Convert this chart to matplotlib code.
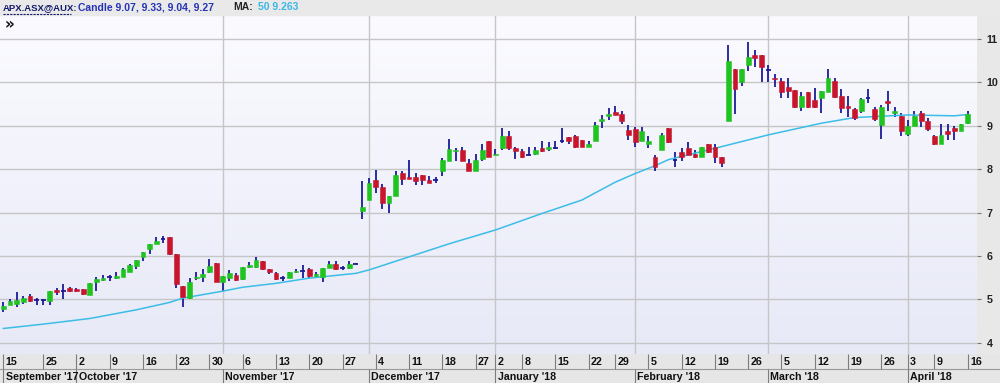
import numpy as np
import pandas as pd
import matplotlib
matplotlib.use('Agg')
import matplotlib.pyplot as plt
from matplotlib.colors import LinearSegmentedColormap
from matplotlib.lines import Line2D
from matplotlib.patches import Rectangle

############ APX.ASX daily candles, 15 Sep 2017 - 16 Apr 2018 ############
opens = [4.78, 4.87, 4.89, 4.94, 5.07, 4.99, 4.99, 4.96, 5.21, 5.19,
         5.26, 5.25, 5.23, 5.10, 5.41, 5.44, 5.51, 5.50, 5.52, 5.62,
         5.78, 5.98, 6.16, 6.28, 6.39, 6.43, 6.05, 5.32, 5.04, 5.49,
         5.52, 5.62, 5.83, 5.39, 5.49, 5.56, 5.46, 5.74, 5.75, 5.88,
         5.70, 5.60, 5.49, 5.49, 5.62, 5.65, 5.70, 5.55, 5.51, 5.73,
         5.82, 5.72, 5.72, 5.82, 7.03, 7.28, 7.76, 7.59, 7.23, 7.39,
         7.92, 7.82, 7.82, 7.86, 7.76, 7.74, 7.97, 8.20, 8.41, 8.45,
         8.14, 7.97, 8.23, 8.64, 8.32, 8.49, 8.77, 8.50, 8.42, 8.33,
         8.35, 8.50, 8.46, 8.49, 8.64, 8.74, 8.77, 8.68, 8.52, 8.64,
         9.10, 9.22, 9.31, 9.28, 8.91, 8.93, 8.64, 8.58, 8.29, 8.44,
         8.94, 8.22, 8.40, 8.48, 8.34, 8.29, 8.58, 8.52, 8.29, 9.11,
         10.32, 10.02, 10.40, 10.63, 10.63, 10.29, 10.11, 10.03, 9.90, 9.82,
         9.43, 9.77, 9.60, 9.65, 9.79, 10.03, 9.69, 9.46, 9.39, 9.35,
         9.63, 9.39, 9.02, 9.57, 9.29, 9.23, 8.81, 9.00, 9.29, 9.11,
         8.77, 8.58, 8.87, 8.94, 8.89, 9.07]
highs = [4.95, 5.02, 5.18, 5.08, 5.12, 5.04, 5.01, 5.19, 5.27, 5.35,
         5.28, 5.27, 5.23, 5.37, 5.52, 5.56, 5.56, 5.62, 5.73, 5.81,
         5.91, 6.09, 6.28, 6.43, 6.45, 6.43, 6.05, 5.32, 5.49, 5.62,
         5.70, 5.92, 5.83, 5.55, 5.68, 5.60, 5.75, 5.87, 5.98, 5.88,
         5.70, 5.62, 5.55, 5.62, 5.70, 5.79, 5.73, 5.64, 5.73, 5.88,
         5.88, 5.78, 5.88, 5.83, 7.72, 7.79, 7.99, 7.66, 7.39, 7.97,
         7.95, 8.22, 7.91, 7.86, 7.85, 7.83, 8.25, 8.69, 8.49, 8.51,
         8.23, 8.35, 8.59, 8.64, 8.46, 8.95, 8.88, 8.50, 8.47, 8.51,
         8.52, 8.64, 8.62, 8.64, 8.95, 8.75, 8.79, 8.68, 8.65, 9.08,
         9.25, 9.42, 9.45, 9.35, 9.01, 8.97, 8.97, 8.77, 8.32, 8.83,
         8.94, 8.40, 8.48, 8.62, 8.44, 8.52, 8.58, 8.57, 8.29, 10.86,
         10.32, 10.31, 10.92, 10.75, 10.63, 10.39, 10.19, 10.09, 10.11, 9.82,
         9.77, 9.77, 9.86, 9.80, 10.30, 10.11, 9.84, 9.69, 9.42, 9.65,
         9.84, 9.43, 9.48, 9.80, 9.43, 9.30, 9.14, 9.34, 9.34, 9.17,
         8.79, 9.04, 9.04, 8.99, 9.05, 9.33]
lows = [4.70, 4.87, 4.83, 4.89, 4.95, 4.87, 4.87, 4.87, 5.09, 5.01,
        5.16, 5.18, 5.10, 5.09, 5.20, 5.42, 5.43, 5.47, 5.52, 5.62,
        5.70, 5.89, 6.05, 6.27, 6.29, 6.02, 5.26, 4.82, 5.02, 5.45,
        5.41, 5.60, 5.39, 5.19, 5.42, 5.42, 5.45, 5.72, 5.73, 5.68,
        5.58, 5.45, 5.43, 5.49, 5.60, 5.50, 5.49, 5.52, 5.41, 5.72,
        5.68, 5.68, 5.70, 5.81, 6.85, 7.28, 7.46, 7.08, 7.00, 7.39,
        7.64, 7.78, 7.64, 7.63, 7.68, 7.69, 7.85, 8.20, 8.20, 8.18,
        7.97, 7.97, 8.20, 8.28, 8.32, 8.45, 8.45, 8.23, 8.25, 8.32,
        8.33, 8.39, 8.43, 8.47, 8.60, 8.58, 8.49, 8.50, 8.50, 8.64,
        8.95, 9.14, 9.24, 9.04, 8.68, 8.50, 8.64, 8.49, 7.96, 8.44,
        8.60, 8.04, 8.19, 8.33, 8.25, 8.29, 8.37, 8.14, 8.04, 9.11,
        9.27, 9.92, 10.26, 10.36, 10.02, 10.02, 9.90, 9.63, 9.63, 9.40,
        9.35, 9.40, 9.40, 9.29, 9.79, 9.63, 9.30, 9.21, 9.14, 9.30,
        9.52, 9.10, 8.69, 9.34, 9.20, 8.77, 8.77, 9.00, 8.98, 8.87,
        8.56, 8.58, 8.67, 8.67, 8.87, 9.04]
closes = [4.85, 4.96, 4.99, 5.03, 4.97, 4.99, 4.99, 5.19, 5.18, 5.19,
          5.19, 5.20, 5.12, 5.37, 5.46, 5.50, 5.51, 5.55, 5.71, 5.79,
          5.91, 6.09, 6.28, 6.35, 6.39, 6.05, 5.36, 5.05, 5.39, 5.52,
          5.59, 5.78, 5.39, 5.55, 5.60, 5.44, 5.75, 5.79, 5.91, 5.69,
          5.62, 5.46, 5.49, 5.62, 5.65, 5.65, 5.55, 5.58, 5.73, 5.82,
          5.70, 5.72, 5.82, 5.82, 7.13, 7.68, 7.58, 7.23, 7.39, 7.87,
          7.78, 7.78, 7.73, 7.74, 7.69, 7.74, 8.22, 8.46, 8.45, 8.18,
          7.97, 8.22, 8.45, 8.29, 8.35, 8.77, 8.49, 8.43, 8.28, 8.33,
          8.45, 8.41, 8.50, 8.49, 8.64, 8.64, 8.51, 8.52, 8.59, 9.02,
          9.16, 9.27, 9.24, 9.12, 8.78, 8.62, 8.88, 8.64, 8.04, 8.79,
          8.62, 8.22, 8.29, 8.33, 8.27, 8.52, 8.39, 8.29, 8.14, 10.49,
          9.85, 10.31, 10.59, 10.57, 10.36, 10.29, 10.07, 9.79, 9.80, 9.44,
          9.69, 9.43, 9.43, 9.80, 10.09, 9.67, 9.42, 9.42, 9.17, 9.61,
          9.63, 9.15, 9.43, 9.52, 9.33, 8.87, 9.00, 9.23, 9.10, 8.92,
          8.58, 8.79, 8.80, 8.88, 9.03, 9.27]

# 50 day moving average at a few candles
ma_idx = [0, 6, 13, 20, 25, 27, 33, 36, 41, 46, 53, 55, 60, 67, 74, 81,
          87, 92, 95, 98, 100, 108, 115, 123, 128, 136, 143, 145]
ma_val = [4.33, 4.43, 4.56, 4.76, 4.93, 5.03, 5.19, 5.28, 5.37, 5.49, 5.60,
          5.68, 5.93, 6.28, 6.60, 6.98, 7.29, 7.70, 7.90, 8.08, 8.22, 8.52,
          8.79, 9.06, 9.19, 9.25, 9.23, 9.26]

holidays = ['2017-12-25', '2017-12-26', '2018-01-01', '2018-01-26',
            '2018-03-30', '2018-04-02']
dates = pd.bdate_range('2017-09-15', '2018-04-16')
dates = dates[~dates.isin(pd.to_datetime(holidays))]

o = np.array(opens); h = np.array(highs); l = np.array(lows); c = np.array(closes)
x = np.arange(len(c))

# week / month starts for the bottom axis (skip a week label too close to the last one)
week_pos, week_lab, mon_pos, mon_lab = [], [], [], []
for i, d in enumerate(dates):
    if i == 0 or d.isocalendar()[1] != dates[i - 1].isocalendar()[1]:
        if week_pos and i - week_pos[-1] < 3:
            continue
        week_pos.append(i); week_lab.append(str(d.day))
for i, d in enumerate(dates):
    if i == 0 or d.month != dates[i - 1].month:
        mon_pos.append(i); mon_lab.append(d.strftime("%B '%y"))

W, H = 1000, 383
fig = plt.figure(figsize=(W / 100, H / 100), dpi=100, facecolor='#e8e8e8')
FONT = 'Liberation Sans'

step = 6.651   # px per candle
x0 = 3.3       # px of first candle
def ix(px):
    return (px - x0) / step

ax = fig.add_axes([0, 1 - 354 / H, 977 / W, (354 - 15) / H])
ax.set_xlim(ix(0), ix(977))
ymin, ymax = 11 - (354 - 39) / 43.4, 11 + (39 - 15) / 43.4
ax.set_ylim(ymin, ymax)

# background gradient
cmap = LinearSegmentedColormap.from_list('bg', ['#e7e9f7', '#fbfbff'])
ax.imshow(np.linspace(0, 1, 200).reshape(-1, 1), cmap=cmap, origin='lower',
          extent=[ix(0), ix(977), ymin, ymax], aspect='auto', zorder=0)

for v in range(4, 12):
    ax.axhline(v, color='#c6c6c6', lw=1.0, zorder=1)
for p in mon_pos[2:]:      # no line at the first full month
    ax.axvline(p, color='#c6c6c6', lw=1.0, zorder=1)

# candles
up = c > o
doji = np.abs(c - o) < 0.015
wick_col = '#1c1c98'
ax.vlines(x, l, h, color=wick_col, lw=1.3, zorder=2)
bw = 0.72
body = ~doji
cols = np.where(up, '#20c420', '#c8142c')
ax.bar(x[body], np.abs(c - o)[body], bottom=np.minimum(o, c)[body], width=bw,
       color=cols[body], edgecolor=cols[body], lw=0.4, zorder=3)
ax.hlines(o[doji], x[doji] - bw / 2, x[doji] + bw / 2, color=wick_col, lw=1.3, zorder=3)

# moving average
ax.plot(ma_idx, ma_val, color='#3cbde8', lw=1.1, zorder=2.5)

for s in ax.spines.values():
    s.set_visible(False)
ax.set_xticks([])
ax.yaxis.tick_right()
ax.set_yticks(range(4, 12))
ax.tick_params(axis='y', length=3, width=0.8, color='#777777', pad=4,
               labelsize=7.7, labelcolor='#222222')
for lbl in ax.get_yticklabels():
    lbl.set_fontweight('bold'); lbl.set_fontfamily(FONT)

# bottom date axis
axb = fig.add_axes([0, 0, 1, (H - 354) / H])
axb.set_xlim(ix(0), ix(W))
axb.set_ylim(H, 354)
axb.axis('off')
axb.add_patch(Rectangle((ix(0), 354), ix(W) - ix(0), 29, color='#e6e6e6', zorder=0))
axb.axhline(369, color='#9a9a9a', lw=0.8)
axb.vlines(week_pos, 354, 369, color='#7c7c7c', lw=0.8)
axb.vlines(mon_pos, 369, 383, color='#7c7c7c', lw=0.8)
for p, t in zip(week_pos, week_lab):
    axb.text(p + 0.35, 361.8, t, fontsize=7.7, fontweight='bold', family=FONT,
             va='center', ha='left', color='#111111', clip_on=False)
for p, t in zip(mon_pos, mon_lab):
    axb.text(p + 0.35, 376.5, t, fontsize=7.7, fontweight='bold', family=FONT,
             va='center', ha='left', color='#111111')

# header
fig.patches.append(Rectangle((0, 1 - 15 / H), 1, 15 / H, transform=fig.transFigure,
                             color='#e9e9e9', zorder=0))
ty = 1 - 7.5 / H
fig.text(3 / W, ty, 'APX.ASX@AUX:', fontsize=6.8, fontweight='bold', family=FONT,
         color='#121a6a', va='center')
fig.lines.append(Line2D([3 / W, 71 / W], [1 - 13.5 / H] * 2, transform=fig.transFigure,
                        color='#121a6a', lw=0.8, ls=(0, (2, 1))))
fig.text(78 / W, ty, 'Candle 9.07, 9.33, 9.04, 9.27', fontsize=7.5, fontweight='bold',
         family=FONT, color='#2633b3', va='center')
fig.text(233 / W, ty, 'MA:', fontsize=7.5, fontweight='bold', family=FONT,
         color='#222222', va='center')
fig.text(258 / W, ty, '50 9.263', fontsize=7.5, fontweight='bold', family=FONT,
         color='#3ab7e6', va='center')
fig.text(5 / W, 1 - 25 / H, '»', fontsize=11, fontweight='bold', color='#111111',
         va='center', ha='left')

fig.savefig('out.png', dpi=100, facecolor=fig.get_facecolor())
